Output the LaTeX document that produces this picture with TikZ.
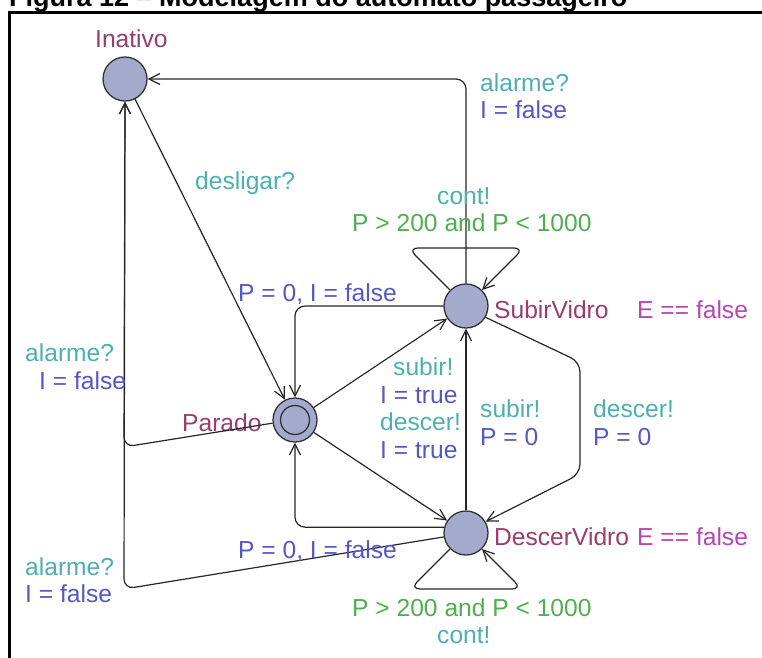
\documentclass[tikz,border=0pt]{standalone}
\usepackage{fontspec}
\setmainfont{Liberation Sans}
\usepackage{tikz}
\usetikzlibrary{arrows.meta, positioning, calc}
\definecolor{locfill}{RGB}{163,170,204}
\definecolor{locnamecol}{RGB}{153,61,107}
\definecolor{invcol}{RGB}{179,71,179}
\definecolor{synccol}{RGB}{77,176,176}
\definecolor{updcol}{RGB}{87,87,196}
\definecolor{guardcol}{RGB}{77,176,77}
\tikzset{>={Straight Barb[length=11pt,width=11pt]}}
\tikzset{
  loc/.style={circle, draw=black!80, fill=locfill, line width=1.3pt,
    minimum size=44pt, inner sep=0pt},
  initloc/.style={loc, path picture={\draw[line width=1.3pt, black!80]
      (path picture bounding box.center) circle (14.5pt);}},
  trans/.style={->, line width=1.2pt, black!85, rounded corners=10pt},
  lbl/.style={anchor=base west, inner sep=0pt, font=\fontsize{24.6}{28}\selectfont},
  lname/.style={lbl, text=locnamecol},
  linv/.style={lbl, text=invcol},
  lsync/.style={lbl, text=synccol},
  lupd/.style={lbl, text=updcol},
  lguard/.style={lbl, text=guardcol},
}
\begin{document}
\begin{tikzpicture}[x=1pt, y=-1pt]
  \useasboundingbox (0,0) rectangle (762,657);
  \clip (0,0) rectangle (762,657);
  % caption and frame
  \node[anchor=base west, inner sep=0pt, font=\bfseries\fontsize{27}{32}\selectfont]
    (titulo) at (9,6) {Figura 12 -- Modelagem do autômato passageiro};
  \draw[line width=2.5pt] (9.5,700) -- (9.5,12.5) -- (800,12.5);
  % locations
  \node[loc] (inativo) at (125,79) {};
  \node[initloc] (parado) at (295,420) {};
  \node[loc] (subir) at (466,306) {};
  \node[loc] (descer) at (466,533) {};
  \node[lname] (inativo-n) at (95,47) {Inativo};
  \node[lname] (parado-n) at (182,431) {Parado};
  \node[lname] (subir-n) at (494,318) {SubirVidro};
  \node[linv] (subir-i) at (637,318) {E == false};
  \node[lname] (descer-n) at (494,545) {DescerVidro};
  \node[linv] (descer-i) at (637,545) {E == false};
  % transitions
  \draw[trans] (subir.north) |- (inativo.east);
  \draw[trans] (inativo) -- (parado);
  \draw[trans] (subir.west) -| (parado.north);
  \draw[trans] (parado) -- (subir);
  \draw[trans] (parado) -- (descer);
  \draw[trans] (descer) -- (subir);
  \draw[trans] (subir.330) -- (580,362) -- (580,474) -- (descer.30);
  \draw[trans] (descer.165) -| (parado.south);
  \draw[trans] (descer.190) -- (124,589) -- (inativo.south);
  \draw[trans] (parado.188) -- (124,447) -- (inativo.south);
  \draw[trans] (subir.135) -- (408,248) -- (524,248) -- (subir.45);
  \draw[trans] (descer.225) -- (410,589) -- (522,589) -- (descer.315);
  % guards, syncs and updates
  \node[lsync] (al-top) at (480,91) {alarme?};
  \node[lupd] (ifalse-top) at (480,118) {I = false};
  \node[lsync] (desl) at (195,189) {desligar?};
  \node[lsync] (cont-top) at (437,204) {cont!};
  \node[lguard] (grd-top) at (352,231) {P > 200 and P < 1000};
  \node[lupd] (reset-top) at (238,301) {P = 0, I = false};
  \node[lsync] (al-mid) at (25,361) {alarme?};
  \node[lupd] (ifalse-mid) at (39,389) {I = false};
  \node[lsync] (sub-p) at (393,375) {subir!};
  \node[lupd] (itrue-a) at (380,403) {I = true};
  \node[lsync] (desc-p) at (380,430) {descer!};
  \node[lupd] (itrue-b) at (380,458) {I = true};
  \node[lsync] (sub-d) at (480,417) {subir!};
  \node[lupd] (pzero-a) at (480,445) {P = 0};
  \node[lsync] (desc-s) at (593,417) {descer!};
  \node[lupd] (pzero-b) at (593,445) {P = 0};
  \node[lupd] (reset-bot) at (238,558) {P = 0, I = false};
  \node[lsync] (al-bot) at (25,575) {alarme?};
  \node[lupd] (ifalse-bot) at (25,602) {I = false};
  \node[lguard] (grd-bot) at (352,616) {P > 200 and P < 1000};
  \node[lsync] (cont-bot) at (437,643) {cont!};
\end{tikzpicture}
\end{document}
